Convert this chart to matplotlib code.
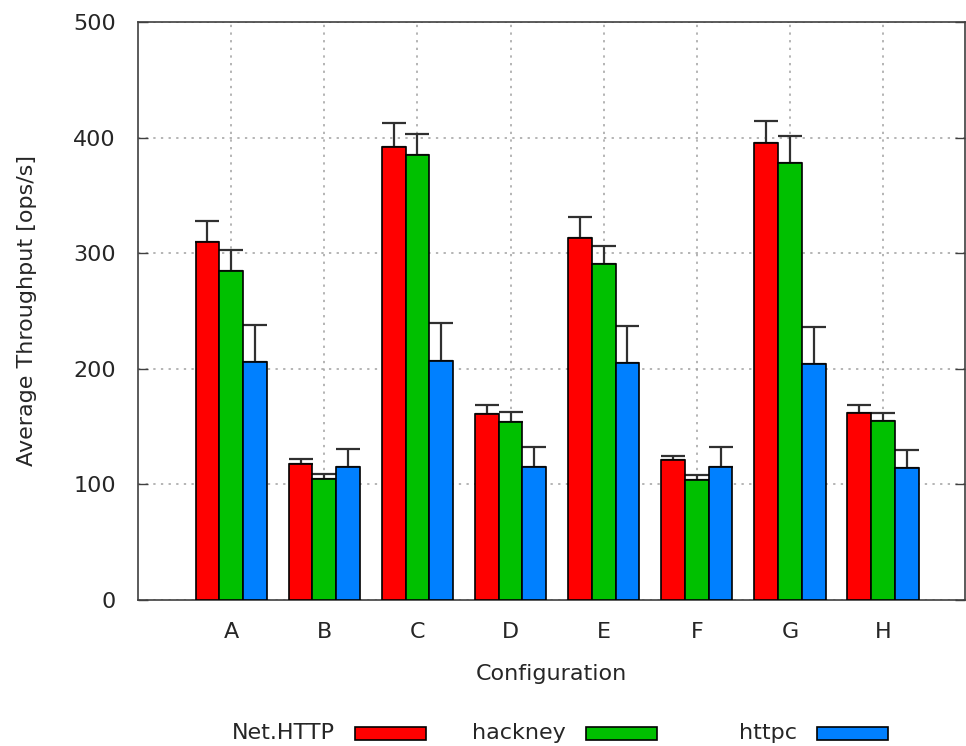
import numpy as np
import matplotlib
matplotlib.use("Agg")
import matplotlib.pyplot as plt
from matplotlib.patches import Rectangle

# data
configs     = ["A", "B", "C", "D", "E", "F", "G", "H"]
nethttp     = [310, 118, 392, 161, 313, 121, 395, 162]
nethttp_err = [18, 4, 21, 8, 18, 4, 19, 7]
hackney     = [285, 105, 385, 154, 291, 104, 378, 155]
hackney_err = [18, 4, 18, 9, 15, 4, 23, 7]
httpc       = [206, 115, 207, 115, 205, 115, 204, 114]
httpc_err   = [32, 16, 33, 17, 32, 17, 32, 16]

series = [("Net.HTTP", nethttp, nethttp_err, "#ff0000"),
          ("hackney",  hackney, hackney_err, "#00c000"),
          ("httpc",    httpc,   httpc_err,   "#0080ff")]

plt.rcParams["font.family"] = "DejaVu Sans"
plt.rcParams["font.size"] = 16
TXT = "#262626"

W, H = 966, 746
fig = plt.figure(figsize=(W / 100, H / 100), dpi=100)
ax = fig.add_axes([138 / W, 146 / H, 827 / W, 578 / H])

x = np.arange(len(configs))
bw = 0.255
for i, (name, vals, err, col) in enumerate(series):
    pos = x + (i - 1) * bw
    ax.bar(pos, vals, bw, color=col, edgecolor="black", linewidth=1.2, zorder=3)
    ax.errorbar(pos, vals, yerr=[np.zeros(len(err)), err], fmt="none",
                ecolor="#303030", elinewidth=1.6, capsize=8.6, capthick=1.6, zorder=2)

ax.set_xlim(-1, 7.88)
ax.set_ylim(0, 500)
ax.set_yticks([0, 100, 200, 300, 400, 500])
ax.set_xticks(x)
ax.set_xticklabels(configs)
ax.tick_params(axis="y", direction="in", length=7, width=1, color="#404040",
               pad=16, labelcolor=TXT, right=True)
ax.tick_params(axis="x", length=0, pad=16, labelcolor=TXT)
ax.set_axisbelow(True)
ax.grid(True, color="#a0a0a0", linestyle=(0, (1.5, 3.5)), linewidth=1.1)
for s in ax.spines.values():
    s.set_color("#404040")
    s.set_linewidth(1.2)

ax.set_xlabel("Configuration", color=TXT, labelpad=16)
ax.set_ylabel("Average Throughput [ops/s]", color=TXT, labelpad=26)

# gnuplot-style key below the plot: label then swatch, evenly spaced columns
key_left, key_step, key_y = 355, 231, 733
for i, (name, vals, err, col) in enumerate(series):
    sx = key_left + i * key_step
    fig.add_artist(Rectangle((sx / W, (H - key_y - 6.5) / H), 71 / W, 13 / H,
                             transform=fig.transFigure, facecolor=col,
                             edgecolor="black", linewidth=1.2))
    fig.text((sx - 20) / W, (H - key_y) / H, name, ha="right", va="center", color=TXT)

fig.savefig("out.png", dpi=100)
